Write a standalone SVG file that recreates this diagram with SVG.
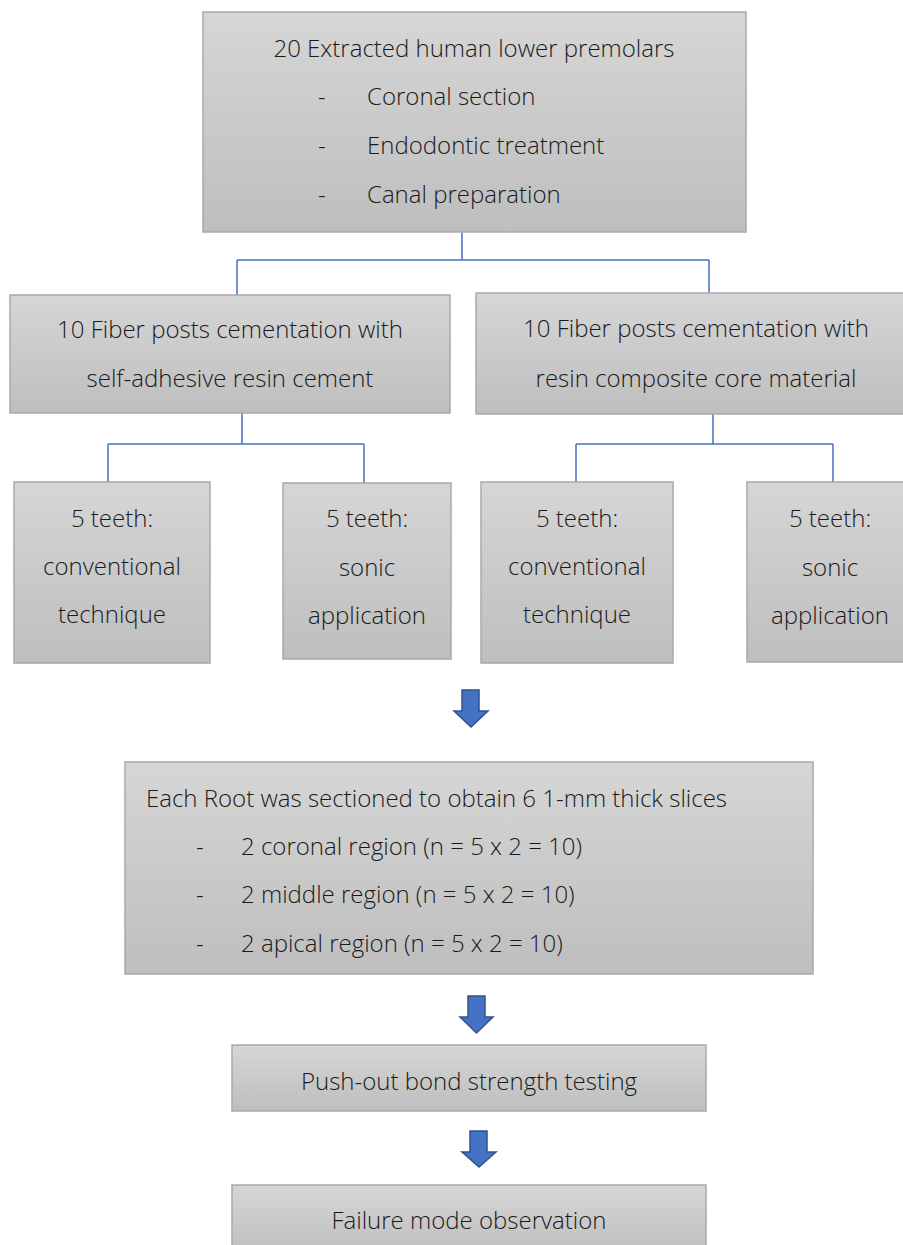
<svg xmlns="http://www.w3.org/2000/svg" width="903" height="1245" viewBox="0 0 903 1245">
  <defs>
    <linearGradient id="boxFill" x1="0" y1="0" x2="0" y2="1">
      <stop offset="0" stop-color="#d6d6d6"/>
      <stop offset="1" stop-color="#bebebe"/>
    </linearGradient>
    <style>
      .box { fill: url(#boxFill); stroke: #a9a9a9; stroke-width: 1.5; }
      .lbl { font-family: "Open Sans", "Noto Sans", sans-serif; font-weight: 300; font-size: 24px; fill: #1a1a1a; dominant-baseline: central; }
      .mid { text-anchor: middle; }
      .link { stroke: #4472c4; stroke-width: 1.5; fill: none; }
      .arrow { fill: #4472c4; stroke: #2f528f; stroke-width: 1.5; stroke-linejoin: miter; }
    </style>
  </defs>

  <rect width="903" height="1245" fill="#ffffff"/>

  <!-- tree connectors -->
  <g id="connectors">
    <path class="link" d="M462 232 V260 M237 260 H709 M237 260 V295 M709 260 V293"/>
    <path class="link" d="M242 413 V444 M108 444 H364 M108 444 V482 M364 444 V483"/>
    <path class="link" d="M713 414 V444 M576 444 H833 M576 444 V482 M833 444 V482"/>
    <path class="arrow" d="M462 690 H479 V711 H488 L471 727 L454 711 H462 Z"/>
    <path class="arrow" d="M468 996 H485 V1017 H493 L476.5 1033 L460 1017 H468 Z"/>
    <path class="arrow" d="M470 1131 H487 V1152 H496 L479 1167 L462 1152 H470 Z"/>
  </g>

  <g id="specimens">
    <rect class="box" x="203" y="12" width="543" height="220"/>
    <text class="lbl mid" x="474" y="47">20 Extracted human lower premolars</text>
    <text class="lbl" x="318" y="95">-</text>
    <text class="lbl" x="367" y="95">Coronal section</text>
    <text class="lbl" x="318" y="144">-</text>
    <text class="lbl" x="367" y="144">Endodontic treatment</text>
    <text class="lbl" x="318" y="193">-</text>
    <text class="lbl" x="367" y="193">Canal preparation</text>
  </g>

  <g id="group-resin-cement">
    <rect class="box" x="10" y="295" width="440" height="118"/>
    <text class="lbl mid" x="230" y="328">10 Fiber posts cementation with</text>
    <text class="lbl mid" x="230" y="377">self-adhesive resin cement</text>
  </g>

  <g id="group-core-material">
    <rect class="box" x="476" y="293" width="440" height="121"/>
    <text class="lbl mid" x="696" y="327">10 Fiber posts cementation with</text>
    <text class="lbl mid" x="696" y="377">resin composite core material</text>
  </g>

  <g id="cement-conventional">
    <rect class="box" x="14" y="482" width="196" height="181"/>
    <text class="lbl mid" x="112" y="517">5 teeth:</text>
    <text class="lbl mid" x="112" y="565">conventional</text>
    <text class="lbl mid" x="112" y="613">technique</text>
  </g>

  <g id="cement-sonic">
    <rect class="box" x="283" y="483" width="168" height="176"/>
    <text class="lbl mid" x="367" y="517">5 teeth:</text>
    <text class="lbl mid" x="367" y="566">sonic</text>
    <text class="lbl mid" x="367" y="614">application</text>
  </g>

  <g id="core-conventional">
    <rect class="box" x="481" y="482" width="192" height="181"/>
    <text class="lbl mid" x="577" y="517">5 teeth:</text>
    <text class="lbl mid" x="577" y="565">conventional</text>
    <text class="lbl mid" x="577" y="613">technique</text>
  </g>

  <g id="core-sonic">
    <rect class="box" x="747" y="482" width="166" height="180"/>
    <text class="lbl mid" x="830" y="517">5 teeth:</text>
    <text class="lbl mid" x="830" y="566">sonic</text>
    <text class="lbl mid" x="830" y="614">application</text>
  </g>

  <g id="sectioning">
    <rect class="box" x="125" y="762" width="688" height="212"/>
    <text class="lbl" x="146" y="797">Each Root was sectioned to obtain 6 1-mm thick slices</text>
    <text class="lbl" x="196" y="845">-</text>
    <text class="lbl" x="241" y="845">2 coronal region (n = 5 x 2 = 10)</text>
    <text class="lbl" x="196" y="893">-</text>
    <text class="lbl" x="241" y="893">2 middle region (n = 5 x 2 = 10)</text>
    <text class="lbl" x="196" y="942">-</text>
    <text class="lbl" x="241" y="942">2 apical region (n = 5 x 2 = 10)</text>
  </g>

  <g id="push-out">
    <rect class="box" x="232" y="1045" width="474" height="66"/>
    <text class="lbl mid" x="469" y="1080">Push-out bond strength testing</text>
  </g>

  <g id="failure-mode">
    <rect class="box" x="232" y="1185" width="474" height="70"/>
    <text class="lbl mid" x="469" y="1219">Failure mode observation</text>
  </g>
</svg>
